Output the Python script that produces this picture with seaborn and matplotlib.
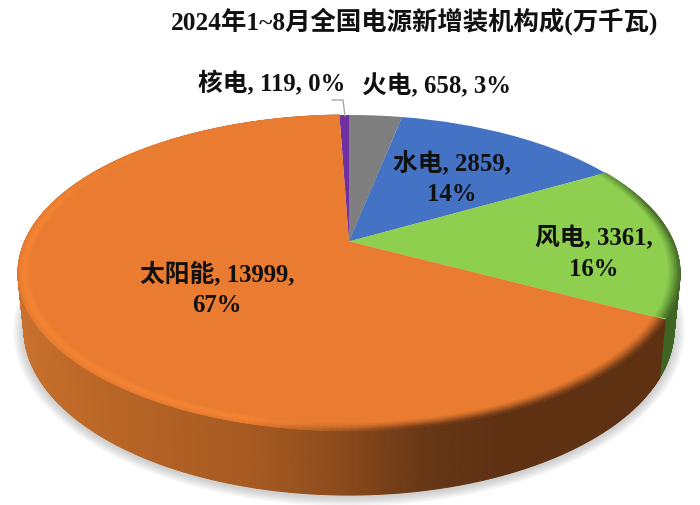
import numpy as np
import matplotlib
matplotlib.use("Agg")
import matplotlib.pyplot as plt
from matplotlib.transforms import Transform
import seaborn as sns

names = ["核电", "火电", "水电", "风电", "太阳能"]
values = [119, 658, 2859, 3361, 13999]
percents = [0, 3, 14, 16, 67]
hex_colors = ["#7030A0", "#7F7F7F", "#4472C4", "#8FCF4F", "#E97C30"]
title = "2024年1~8月全国电源新增装机构成(万千瓦)"

sns.set_theme(style="white")
FONT = ["Liberation Serif", "Noto Sans CJK SC", "DejaVu Sans"]
plt.rcParams["font.family"] = FONT
palette = sns.color_palette(hex_colors)

# Perspective of the disc: unit circle -> ellipse, disc centre -> pie apex
B = 0.2
TOP = (349.0, 273.0, 331.0, 158.0)
BOT = (349.0, 329.0, 325.0, 166.0)


def project(x, y, geom=TOP):
    cx, cy, rx, ry = geom
    d = 1 + B * y
    return cx + rx * x * np.sqrt(1 - B * B) / d, cy - ry * (y + B) / d


class Perspective(Transform):
    input_dims = output_dims = 2
    is_affine = False
    has_inverse = False

    def transform_non_affine(self, pts):
        pts = np.asarray(pts, float)
        px, py = project(pts[:, 0], pts[:, 1])
        return np.column_stack([px, py])


fig = plt.figure(figsize=(7, 5.05), dpi=100)
ax = fig.add_axes([0, 0, 1, 1])

total = sum(values)
start_deg = 360 * values[0] / total
edges = np.cumsum(values) / total * 360 - start_deg  # clockwise from 12 o'clock

wedges, _ = ax.pie(values, colors=palette, startangle=90 + start_deg,
                   counterclock=False, radius=1, frame=False)
persp = Perspective()
for w in wedges:
    w.set_transform(persp + ax.transData)
    w.set_clip_on(False)
    w.set_zorder(5)
    w.set_edgecolor("none")

ax.set_aspect("auto")
ax.set_xlim(0, 700)
ax.set_ylim(505, 0)
ax.axis("off")

# soft shadow under the pie
ang = np.radians(np.linspace(0, 360, 240))
for grow in np.linspace(11, 1, 10):
    gx, gy = project(np.sin(ang), np.cos(ang), (349, 331, 325 + grow, 166 + grow * 0.85))
    ax.fill(gx, gy, color="#707070", alpha=0.035, lw=0, zorder=1)

# side wall
stop_x = [20, 100, 250, 340, 420, 500, 700]
stop_rgb = np.array([[200, 113, 46], [186, 102, 38], [166, 90, 34], [140, 75, 28],
                     [104, 56, 22], [94, 49, 19], [94, 49, 19]]) / 255
wall_green = "#3F6424"


def wall_color(x):
    return tuple(np.interp(x, stop_x, stop_rgb[:, k]) for k in range(3))


def wall(t0, t1, solid=None):
    th = np.radians(np.arange(t0, t1 + 1e-6, 0.4))
    if th[-1] < np.radians(t1):
        th = np.append(th, np.radians(t1))
    for a, b in zip(th[:-1], th[1:]):
        tx0, ty0 = project(np.sin([a, b]), np.cos([a, b]))
        bx0, by0 = project(np.sin([b, a]), np.cos([b, a]), BOT)
        col = solid if solid else wall_color(tx0.mean())
        ax.fill(np.r_[tx0, bx0], np.r_[ty0, by0], color=col, lw=0.8, zorder=3)


wall(edges[2], edges[3], wall_green)
wall(edges[3], edges[4])

# bevel along the rim of the disc
face_solar = np.array(palette[4])
face_wind = np.array(palette[3])
highlight = np.array([244, 132, 52]) / 255
layers = np.linspace(0.962, 1.0, 11)


def bevel(t0, t1, face, dark, light):
    th = np.radians(np.arange(t0, t1 + 1e-6, 1.0))
    for a, b in zip(th[:-1], th[1:]):
        fade = np.clip((0.75 - np.cos(a)) / 0.5, 0, 1)
        mx = project(np.sin(a), np.cos(a))[0]
        s = np.clip((mx - 250) / 170, 0, 1)
        for r0, r1 in zip(layers[:-1], layers[1:]):
            t = (r0 - layers[0]) / (layers[-1] - layers[0])
            lft = face + (light - face) * np.sin(np.pi * min(t * 1.1, 1))
            rgt = face + (dark - face) * t ** 1.2
            col = face + fade * ((1 - s) * lft + s * rgt - face)
            xs = [r0 * np.sin(a), r0 * np.sin(b), r1 * np.sin(b), r1 * np.sin(a)]
            ys = [r0 * np.cos(a), r0 * np.cos(b), r1 * np.cos(b), r1 * np.cos(a)]
            px, py = project(np.array(xs), np.array(ys))
            ax.fill(px, py, color=tuple(col), lw=0.5, zorder=6)


bevel(edges[3], edges[4], face_solar, stop_rgb[-1], highlight)
bevel(edges[2], edges[3], face_wind, np.array(matplotlib.colors.to_rgb(wall_green)), face_wind * 1.0)

# text
ax.text(415, 21, title, ha="center", va="center", fontsize=18.3, fontweight="bold",
        color="#111111", family=FONT, zorder=10)

label_breaks = [", ", ", ", ",\n", ",\n", ",\n"]
label_xy = [(272, 84), (436, 86), (452, 178), (594, 254), (217, 289)]
for name, val, pct, brk, (lx, ly) in zip(names, values, percents, label_breaks, label_xy):
    ax.text(lx, ly, f"{name}, {val}{brk}{pct}%", ha="center", va="center",
            fontsize=17.8, fontweight="bold", color="#111111", family=FONT,
            linespacing=1.42, zorder=10)

# leader line of the smallest slice
ax.plot([332, 343, 345], [100, 100, 116], color="#A6A6A6", lw=1, zorder=9)

fig.savefig("out.png", dpi=100)
